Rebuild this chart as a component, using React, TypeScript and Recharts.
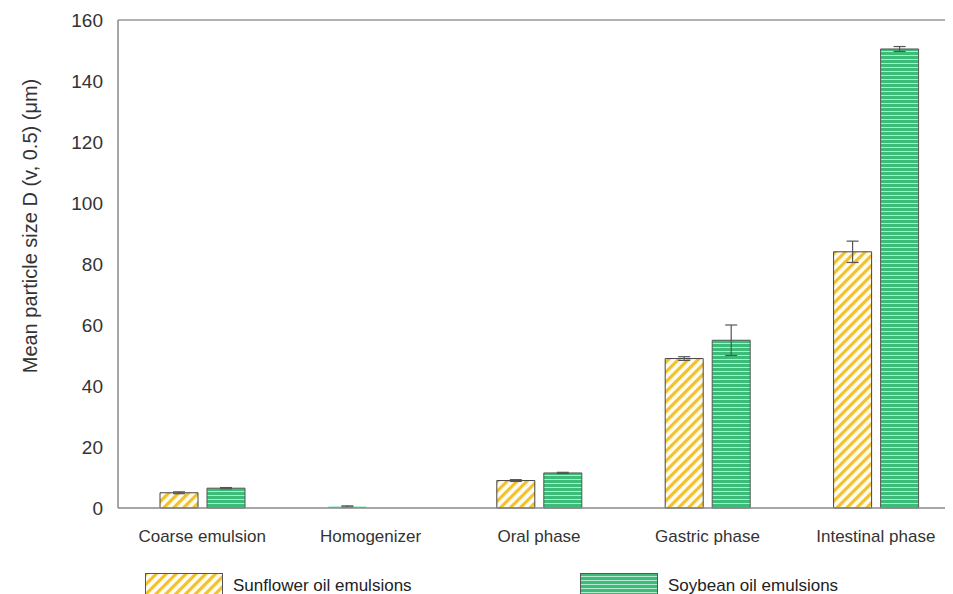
import { Bar, BarChart, Cell, ErrorBar, ReferenceLine, XAxis, YAxis } from "recharts";

const stages = ["Coarse emulsion", "Homogenizer", "Oral phase", "Gastric phase", "Intestinal phase"];
const sunflower = [5, 0.5, 9, 49, 84];
const sunflowerErr = [0.3, 0.2, 0.3, 0.6, 3.5];
const soybean = [6.5, 0, 11.5, 55, 150.5];
const soybeanErr = [0.2, 0, 0.2, 5, 0.8];
const yTicks = [0, 20, 40, 60, 80, 100, 120, 140, 160];

const data = stages.map((stage, i) => ({
  stage,
  sunflower: sunflower[i],
  sunflowerErr: sunflowerErr[i],
  soybean: soybean[i],
  soybeanErr: soybeanErr[i],
}));

const font = "'Liberation Sans', Arial, sans-serif";

function Patterns({ suffix = "" }: { suffix?: string }) {
  return (
    <defs>
      <pattern id={"sun" + suffix} width="7" height="7" patternUnits="userSpaceOnUse" patternTransform="rotate(45)">
        <rect width="7" height="7" fill="#fffdf3" />
        <rect width="3.2" height="7" fill="#f2c12e" />
      </pattern>
      <pattern id={"soy" + suffix} width="8" height="4" patternUnits="userSpaceOnUse">
        <rect width="8" height="4" fill="#3dbb78" />
        <rect y="3" width="8" height="1" fill="#b4ead0" />
      </pattern>
    </defs>
  );
}

function YLabel(props: any) {
  const vb = props.viewBox || { x: 0, y: 0, width: 0, height: 0 };
  const x = vb.x + 22;
  const y = vb.y + vb.height / 2 - 38;
  return (
    <text x={x} y={y} transform={`rotate(-90, ${x}, ${y})`} textAnchor="middle" dominantBaseline="central"
      fontSize={20} fill="#333" fontFamily={font}>
      Mean particle size D (v, 0.5) (μm)
    </text>
  );
}

function LegendItem({ id, label, left }: { id: string; label: string; left: number }) {
  return (
    <div style={{ position: "absolute", left, top: 0, display: "flex", alignItems: "flex-start" }}>
      <svg width={78} height={26} style={{ display: "block" }}>
        <Patterns suffix="-lg" />
        <rect x={0.5} y={0.5} width={77} height={25} fill={`url(#${id}-lg)`} stroke="#555" strokeWidth={1} />
      </svg>
      <span style={{ marginLeft: 10, fontSize: 17, color: "#222", fontFamily: font, lineHeight: "22px", marginTop: 2 }}>
        {label}
      </span>
    </div>
  );
}

export default function App() {
  return (
    <div style={{ position: "relative", width: 945, height: 586, overflow: "hidden", background: "#fff" }}>
      <BarChart
        width={952}
        height={586}
        data={data}
        margin={{ top: 12, right: 0, left: 0, bottom: 46 }}
        barCategoryGap="24.5%"
        barGap={9}
        barSize={38}
      >
        <Patterns />
        <ReferenceLine y={160} stroke="#999" strokeWidth={1.5} />
        <XAxis
          dataKey="stage"
          height={40}
          tickLine={false}
          tickSize={0}
          tickMargin={22}
          axisLine={{ stroke: "#888", strokeWidth: 1.5 }}
          tick={{ fontSize: 17, fill: "#333", fontFamily: font }}
          interval={0}
        />
        <YAxis
          width={110}
          domain={[0, 160]}
          ticks={yTicks}
          tickLine={false}
          tickSize={0}
          tickMargin={15}
          axisLine={{ stroke: "#888", strokeWidth: 1.5 }}
          tick={{ fontSize: 19, fill: "#333", fontFamily: font }}
          label={<YLabel />}
        />
        <Bar dataKey="sunflower" fill="url(#sun)" stroke="#444" strokeWidth={1} isAnimationActive={false}>
          {data.map((d, i) => (
            <Cell key={d.stage} fill={i === 1 ? "#6ee8a8" : "url(#sun)"} stroke={i === 1 ? "none" : "#444"} />
          ))}
          <ErrorBar dataKey="sunflowerErr" width={6} stroke="#555" strokeWidth={1.2} />
        </Bar>
        <Bar dataKey="soybean" fill="url(#soy)" stroke="#555" strokeWidth={1} isAnimationActive={false}>
          <ErrorBar dataKey="soybeanErr" width={6} stroke="#555" strokeWidth={1.2} />
        </Bar>
      </BarChart>
      <div style={{ position: "absolute", left: 137, top: 565, width: 800, height: 30 }}>
        <LegendItem id="sun" label="Sunflower oil emulsions" left={0} />
        <LegendItem id="soy" label="Soybean oil emulsions" left={435} />
      </div>
    </div>
  );
}
